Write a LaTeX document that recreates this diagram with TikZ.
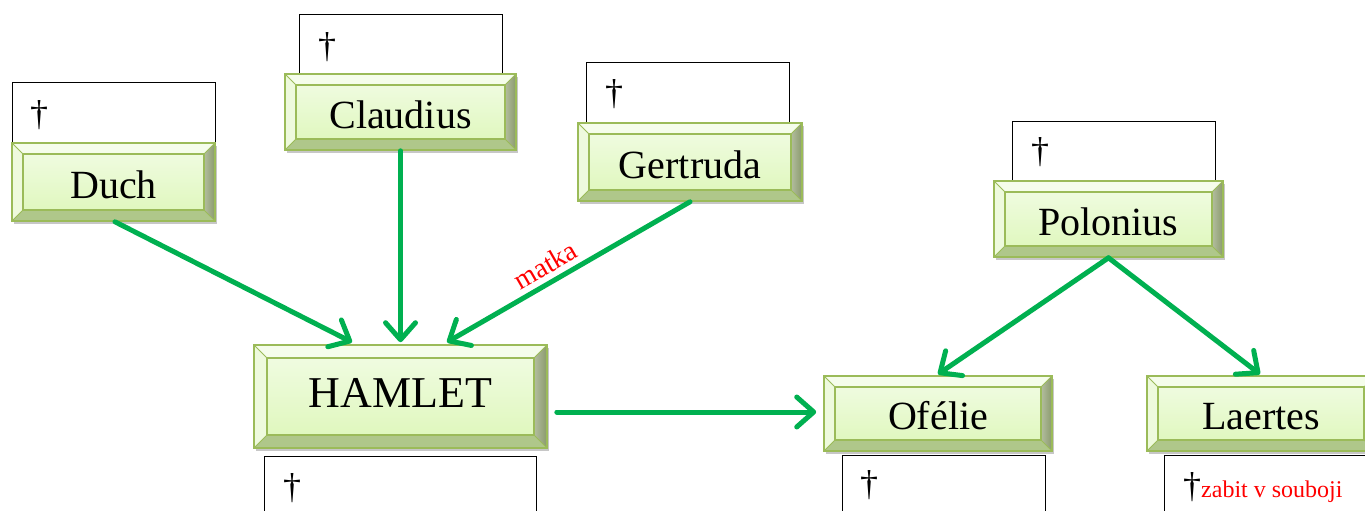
\documentclass[tikz,border=0pt]{standalone}
\usepackage{fontspec}
\setmainfont{Liberation Serif}
\usetikzlibrary{arrows.meta,calc,shadows}
\definecolor{bevline}{HTML}{9BBB59}
\definecolor{faceTop}{HTML}{F2FCE6}
\definecolor{faceBot}{HTML}{DDF7B8}
\definecolor{bevTop}{HTML}{F5FDEB}
\definecolor{bevLeft}{HTML}{EEFADD}
\definecolor{bevRight}{HTML}{8A9A6C}
\definecolor{bevBot}{HTML}{AFC78A}
\definecolor{arrgreen}{HTML}{00B050}
\begin{document}
\begin{tikzpicture}[x=1pt,y=-1pt,
  bev/.style={draw=bevline, line width=1.6pt, inner sep=0pt,
    font=\fontsize{40}{42}\selectfont, text height=32pt, text depth=0pt,
    top color=faceTop, bottom color=faceBot,
    drop shadow={shadow xshift=2pt, shadow yshift=-3pt, opacity=0.22, fill=black},
    path picture={
      \path (path picture bounding box.north west) coordinate (@a)
            (path picture bounding box.north east) coordinate (@b)
            (path picture bounding box.south east) coordinate (@c)
            (path picture bounding box.south west) coordinate (@d);
      \path ($(@a)+(#1,-#1)$) coordinate (@A)
            ($(@b)+(-#1,-#1)$) coordinate (@B)
            ($(@c)+(-#1,#1)$) coordinate (@C)
            ($(@d)+(#1,#1)$) coordinate (@D);
      \fill[bevTop] (@a)--(@b)--(@B)--(@A)--cycle;
      \fill[bevLeft] (@a)--(@A)--(@D)--(@d)--cycle;
      \shade[left color=bevRight!65!white, right color=bevRight] (@b)--(@c)--(@C)--(@B)--cycle;
      \fill[bevBot] (@d)--(@D)--(@C)--(@c)--cycle;
      \draw[bevline, line width=1.2pt] (@A) rectangle (@C);
      \draw[bevline, line width=0.8pt] (@a)--(@A) (@b)--(@B) (@c)--(@C) (@d)--(@D);
    }},
  bev/.default=11pt,
  wbox/.style={draw=black, line width=1pt, fill=white, inner sep=0pt},
  dagger/.style={inner sep=0pt, font=\fontsize{36}{36}\selectfont},
  arr/.style={draw=arrgreen, line width=5pt, line cap=round,
    -{Straight Barb[length=17pt,width=30pt,line cap=round,line join=round]}},
  lbl/.style={text=red, inner sep=0pt, font=\fontsize{28}{28}\selectfont}
]
\useasboundingbox (0,0) rectangle (1365,511);

% white boxes
\node[wbox, minimum width=203pt, minimum height=60pt] (duchW) at (113.5,112) {};
\node[wbox, minimum width=203pt, minimum height=59pt] (claudiusW) at (400.5,44.5) {};
\node[wbox, minimum width=203pt, minimum height=60pt] (gertrudaW) at (687.5,93) {};
\node[wbox, minimum width=203pt, minimum height=60pt] (poloniusW) at (1113.5,151) {};
\node[wbox, minimum width=272pt, minimum height=70pt] (hamletW) at (400,491) {};
\node[wbox, minimum width=203pt, minimum height=70pt] (ofelieW) at (943.5,490) {};
\node[wbox, minimum width=210pt, minimum height=70pt] (laertesW) at (1269,490) {};

% daggers
\node[dagger] (duchD) at (39,115) {\dag};
\node[dagger] (claudiusD) at (327,47) {\dag};
\node[dagger] (gertrudaD) at (614,94) {\dag};
\node[dagger] (poloniusD) at (1040,152) {\dag};
\node[dagger] (hamletD) at (292,488) {\dag};
\node[dagger] (ofelieD) at (869,485) {\dag};
\node[dagger, anchor=west] (laertesD) at (1183,488) {\dag\textcolor{red}{\fontsize{24}{24}\selectfont zabit v souboji}};

% green bevel boxes
\node[bev, minimum width=203pt, minimum height=78pt] (duch) at (113.5,182) {Duch};
\node[bev, minimum width=231pt, minimum height=76pt] (claudius) at (400.5,112) {Claudius};
\node[bev, minimum width=224pt, minimum height=78pt] (gertruda) at (690,162) {Gertruda};
\node[bev, minimum width=229pt, minimum height=76pt] (polonius) at (1108.5,219) {Polonius};
\node[bev=13pt, minimum width=293pt, minimum height=103pt, font=\fontsize{44}{46}\selectfont, text height=22pt] (hamlet) at (400.5,396.5) {HAMLET};
\node[bev, minimum width=228pt, minimum height=75pt] (ofelie) at (938,413.5) {Ofélie};
\node[bev, minimum width=228pt, minimum height=75pt] (laertes) at (1261,413.5) {Laertes};

% connectors
\draw[arr] ($(duch.south)+(1.5,0)$) -- ($(hamlet.north)+(-48.5,-2)$);
\draw[arr] (claudius.south) -- ($(hamlet.north)+(0,-2)$);
\draw[arr] (gertruda.south) -- node[lbl, pos=0.56, sloped, above=5pt] {matka} ($(hamlet.north)+(46.5,-2)$);
\draw[arr] ($(hamlet.east)+(9,15.5)$) -- ($(ofelie.west)+(-7,-1.5)$);
\draw[arr] (polonius.south) -- ($(ofelie.north)+(0,-1)$);
\draw[arr] (polonius.south) -- ($(laertes.north)+(-1,-1)$);
\end{tikzpicture}
\end{document}
